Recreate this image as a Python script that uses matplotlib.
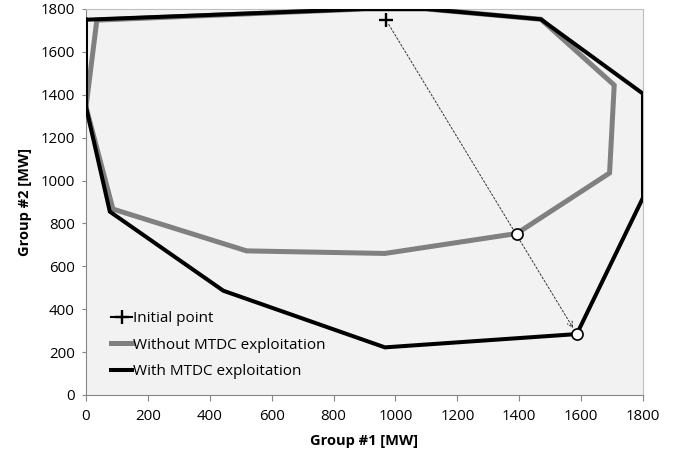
import matplotlib.pyplot as plt

plt.rcParams['font.family'] = ['Open Sans', 'DejaVu Sans']

# Feasible regions (Group #1 MW, Group #2 MW)
with_x = [0, 900, 1100, 1470, 1800, 1800, 1586, 966, 444, 77, 0, 0]
with_y = [1750, 1800, 1800, 1752, 1405, 920, 284, 222, 486, 855, 1343, 1750]

without_x = [0, 35, 900, 1100, 1470, 1707, 1692, 1392, 966, 519, 87, 0]
without_y = [1343, 1748, 1800, 1800, 1752, 1445, 1035, 753, 660, 672, 867, 1343]

init_x, init_y = 969, 1750
end_without = (1392, 753)
end_with = (1586, 284)

fig = plt.figure(figsize=(6.82, 4.54), dpi=100)
ax = fig.add_axes([0.1261, 0.13, 0.8167, 0.8502])
ax.set_facecolor('#F2F2F2')

ax.plot(without_x, without_y, color='#808080', lw=3.6, solid_joinstyle='miter',
        label='Without MTDC exploitation', zorder=3)
ax.plot(with_x, with_y, color='black', lw=2.9, solid_joinstyle='miter',
        label='With MTDC exploitation', zorder=4)

# direction from the initial point to the boundaries
ax.annotate('', xy=end_with, xytext=(init_x, init_y),
            arrowprops=dict(arrowstyle='->', color='#333333', lw=0.7,
                            linestyle=(0, (2, 2)), shrinkA=4, shrinkB=5),
            zorder=5)
ax.plot(init_x, init_y, marker='+', color='black', ms=10, mew=1.7, lw=1.5,
        linestyle='-', label='Initial point', zorder=6)
ax.plot(*end_without, 'o', mfc='white', mec='black', ms=8, mew=1.2, zorder=6)
ax.plot(*end_with, 'o', mfc='white', mec='black', ms=8, mew=1.2, zorder=6)

ax.set_xlim(0, 1800)
ax.set_ylim(0, 1800)
ax.set_xticks(range(0, 1801, 200))
ax.set_yticks(range(0, 1801, 200))
ax.tick_params(axis='both', labelsize=10.8, colors='#868686', labelcolor='black',
               direction='out', length=4, width=0.8, pad=6)
ax.tick_params(axis='y', length=3, pad=5)

for side in ['left', 'bottom']:
    ax.spines[side].set_color('#868686')
for side in ['top', 'right']:
    ax.spines[side].set_color('#BFBFBF')

ax.set_xlabel('Group #1 [MW]', fontsize=10.5, fontweight='bold', labelpad=7)
ax.set_ylabel('Group #2 [MW]', fontsize=10.5, fontweight='bold', labelpad=6)

handles, labels = ax.get_legend_handles_labels()
order = [2, 0, 1]
ax.legend([handles[i] for i in order], [labels[i] for i in order],
          loc='lower left', bbox_to_anchor=(0.02, 0.005), frameon=False,
          fontsize=11, handlelength=1.4, handletextpad=0.05, labelspacing=0.75)

fig.savefig('out.png', dpi=100)
